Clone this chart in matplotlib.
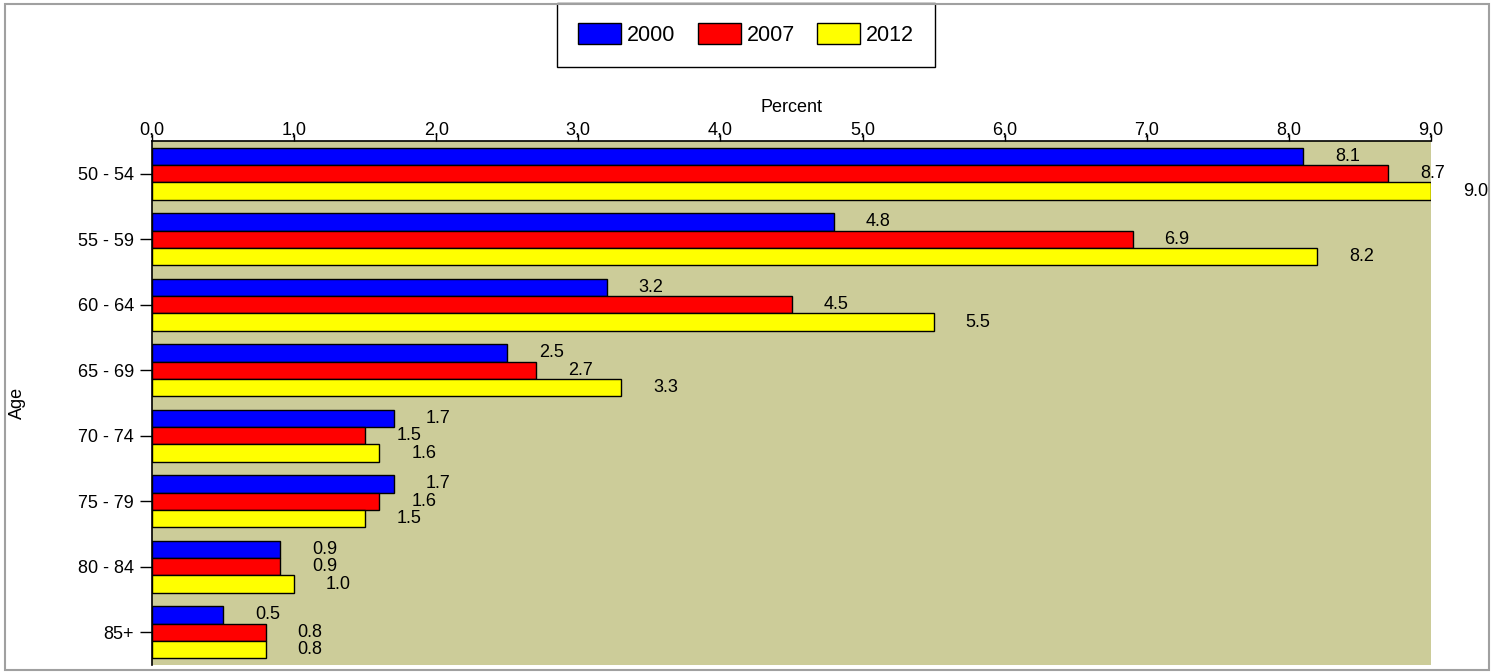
import matplotlib
matplotlib.use('Agg')
import matplotlib.pyplot as plt
import matplotlib.patches as mpatches
from matplotlib.ticker import FuncFormatter
import numpy as np

plt.rcParams['font.family'] = ['Liberation Sans', 'DejaVu Sans']

ages = ['50 - 54', '55 - 59', '60 - 64', '65 - 69', '70 - 74', '75 - 79', '80 - 84', '85+']
years = ['2000', '2007', '2012']
v2000 = [8.1, 4.8, 3.2, 2.5, 1.7, 1.7, 0.9, 0.5]
v2007 = [8.7, 6.9, 4.5, 2.7, 1.5, 1.6, 0.9, 0.8]
v2012 = [9.0, 8.2, 5.5, 3.3, 1.6, 1.5, 1.0, 0.8]
colors = ['#0000ff', '#ff0000', '#ffff00']

FS = 13
W, H = 1502, 672
fig = plt.figure(figsize=(W / 100, H / 100), dpi=100)
ax = fig.add_axes([152 / W, 1 - 665 / H, (1431 - 152) / W, (665 - 141) / H])
ax.set_facecolor('#cccc99')

# outer gray frame
fig.patches.append(mpatches.Rectangle((5 / W, 1 - 670 / H), (1489 - 5) / W, (670 - 4) / H,
                                      transform=fig.transFigure, fill=False,
                                      edgecolor='#a0a0a0', linewidth=1.5))

pos = np.arange(len(ages))
bh = 0.8 / 3
for k, vals in enumerate([v2000, v2007, v2012]):
    yy = pos - 0.4 + bh * (k + 0.5)
    ax.barh(yy, vals, height=bh, color=colors[k], edgecolor='black', linewidth=1.0, label=years[k])
    for y, v in zip(yy, vals):
        ax.annotate('%.1f' % v, (v, y), xytext=(23, 0), textcoords='offset points',
                    ha='left', va='center', fontsize=FS, annotation_clip=False)

ax.set_xlim(0, 9)
ax.set_ylim(len(ages) - 0.5, -0.5)
ax.set_xticks(np.arange(0, 9.5, 1.0))
ax.xaxis.set_major_formatter(FuncFormatter(lambda x, p: ('%.1f' % x).replace('.', ',')))
ax.xaxis.tick_top()
ax.xaxis.set_label_position('top')
ax.set_xlabel('Percent', fontsize=FS, labelpad=7)
ax.set_yticks(pos)
ax.set_yticklabels(ages)
ax.tick_params(axis='x', labelsize=FS, length=5, pad=-3, width=1)
ax.tick_params(axis='y', labelsize=FS, length=9, pad=4, width=1)
ax.set_ylabel('Age', fontsize=FS)
ax.yaxis.set_label_coords((26 - 152) / (1431 - 152), 0.5)

for s in ['right', 'bottom']:
    ax.spines[s].set_visible(False)
for s in ['left', 'top']:
    ax.spines[s].set_linewidth(1.2)

leg = ax.legend(loc='upper center', bbox_to_anchor=(746 / W, 1 - 3 / H),
                bbox_transform=fig.transFigure, ncol=3, fontsize=15.5, frameon=True,
                fancybox=False, edgecolor='black', framealpha=1, borderaxespad=0,
                handlelength=2.0, handleheight=1.1, handletextpad=0.28,
                columnspacing=1.03, borderpad=0.95)
leg.get_frame().set_linewidth(1.0)

plt.savefig('out.png', dpi=100)
